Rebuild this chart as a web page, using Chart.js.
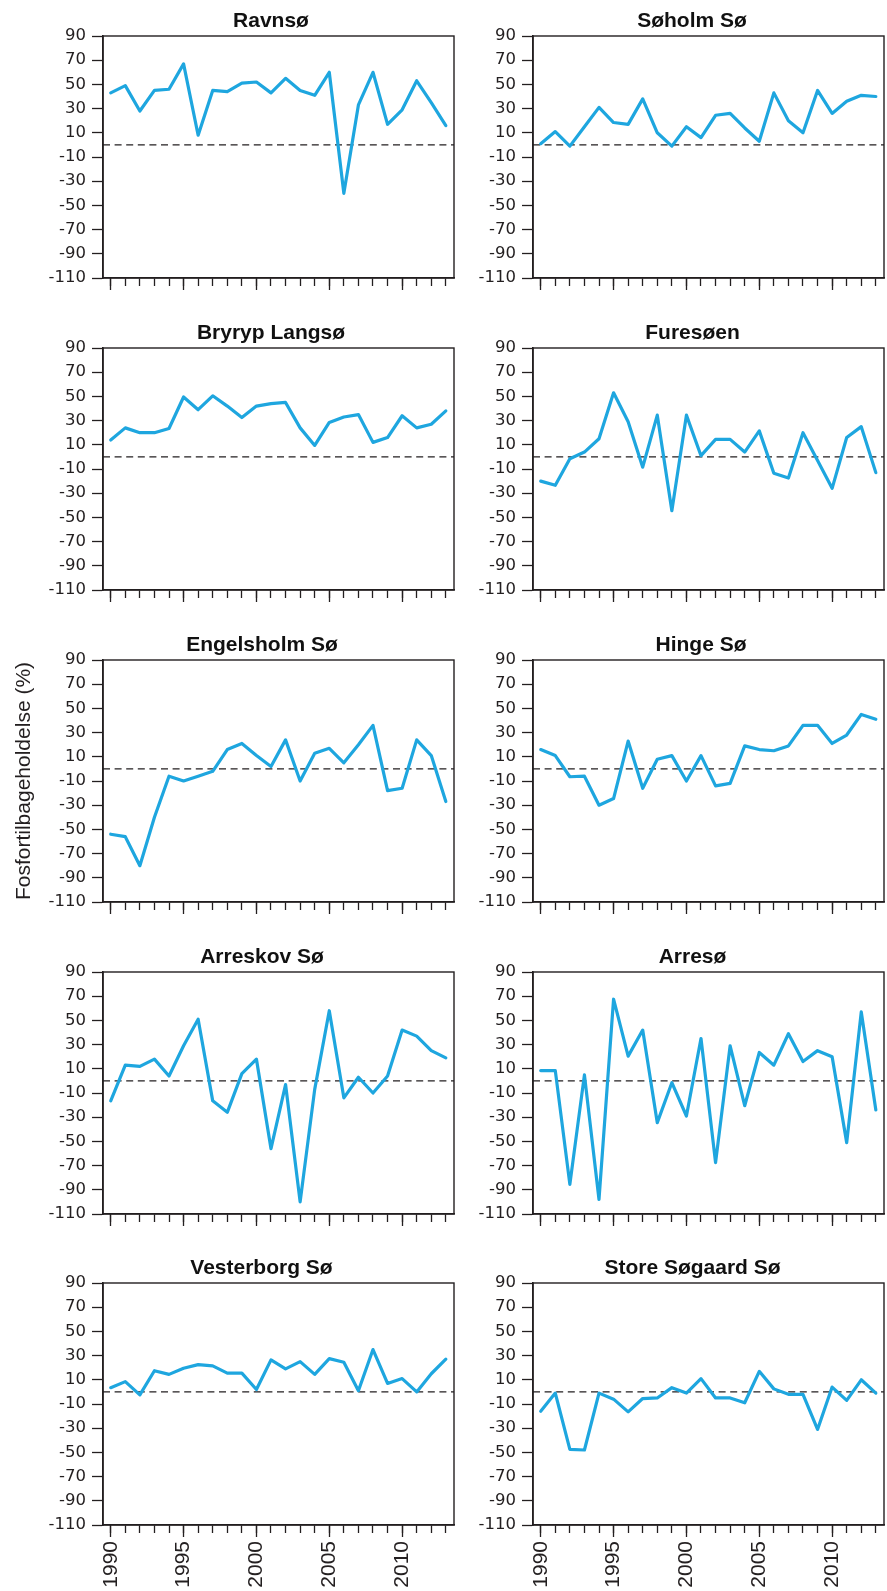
<!DOCTYPE html>
<html lang="da">
<head>
<meta charset="utf-8">
<title>Fosfortilbageholdelse</title>
<script src="https://cdn.jsdelivr.net/npm/chart.js@4.4.1/dist/chart.umd.min.js"></script>
<style>
  html, body { margin: 0; padding: 0; background: #ffffff; }
  #page { position: relative; width: 887px; height: 1591px; overflow: hidden; background: #ffffff; }
  #page canvas { position: absolute; }
</style>
</head>
<body>
<div id="page"></div>
<script>
// ---- data -------------------------------------------------------------
const years = [1990, 1991, 1992, 1993, 1994, 1995, 1996, 1997, 1998, 1999, 2000, 2001,
               2002, 2003, 2004, 2005, 2006, 2007, 2008, 2009, 2010, 2011, 2012, 2013];

const lakeNames = ['Ravnsø', 'Søholm Sø', 'Bryryp Langsø', 'Furesøen', 'Engelsholm Sø',
                   'Hinge Sø', 'Arreskov Sø', 'Arresø', 'Vesterborg Sø', 'Store Søgaard Sø'];

// phosphorus retention (%) per lake and year
const ravnso       = [43, 49, 28, 45, 46, 67, 8, 45, 44, 51, 52, 43, 55, 45, 41, 60, -40, 33, 60, 17, 29, 53, 35, 16];
const soholm       = [1, 11, -1, 15, 31, 18.5, 17, 38, 10, -1, 15, 6, 24.5, 26, 14, 3, 43, 20, 10, 45, 26, 36, 41, 40];
const bryrypLangso = [14, 24, 20, 20, 23.5, 49.5, 39, 50.5, 42, 32.5, 42, 44, 45, 24, 9.5, 28.5, 33, 35, 12, 16, 34, 24, 27, 38];
const furesoen     = [-20, -23.5, -1.5, 4, 15, 53, 29, -8.5, 34.5, -44.5, 34.5, 1, 14.5, 14.5, 4, 21.5, -13.5, -17.5, 20, -3, -26, 16, 25, -13];
const engelsholm   = [-54, -56, -80, -40, -6, -10, -6, -2, 16, 21, 11, 2, 24, -10, 13, 17, 5, 20, 36, -18, -16, 24, 11, -27];
const hinge        = [16, 11, -6.5, -6, -30, -24.5, 23, -16, 8, 11, -10, 11, -14, -12, 19, 16, 15, 19, 36, 36, 21, 28, 45, 41];
const arreskov     = [-16.5, 13, 12, 18, 4, 29, 51, -16.5, -26, 6, 18, -56, -3, -100, -7, 58, -14, 3, -10, 4, 42, 37, 25, 19];
const arreso       = [8.5, 8.5, -85.5, 5, -98, 67.5, 20.5, 42, -34.5, -1.5, -29, 35, -67.5, 29, -20.5, 23.5, 13, 39, 16, 25, 20, -51, 57, -24];
const vesterborg   = [3.5, 8.5, -2.5, 17.5, 14.5, 19.5, 22.5, 21.5, 15.5, 15.5, 2, 26.5, 19, 25, 14.5, 27.5, 24.5, 1, 35, 7, 11, 0, 15, 27];
const storeSogaard = [-16, -1, -47.5, -48, -1, -6, -16.5, -5.5, -5, 3.5, -1, 11, -5, -5, -9, 17, 2.5, -2, -2, -31, 4, -7, 10, -1];

const lakeSeries = [ravnso, soholm, bryrypLangso, furesoen, engelsholm,
                    hinge, arreskov, arreso, vesterborg, storeSogaard];

// axis ticks
const yTickValues = [-110, -90, -70, -50, -30, -10, 10, 30, 50, 70, 90];
const xTickLabels = [1990, 1995, 2000, 2005, 2010];
const yAxisLabel = 'Fosfortilbageholdelse (%)';

// ---- layout & style -------------------------------------------------------
const ink = '#231f20';
const lineBlue = '#1ea6df';
const xMin = 1989.47, xMax = 2013.56;
const yMin = yTickValues[0], yMax = yTickValues[yTickValues.length - 1];

const canvasW = 457;
const columnLeft = [0, 430];
const boxTops = [36, 348, 660, 972, 1283];   // top edge of each row's plot frame
const boxHeight = 242;
const titleGap = 36;                         // canvas space above the frame
const axisWidth = 103;                       // y-axis band, left of the frame
const frameRight = 454;
const titleCentres = [271, 262, 271, 262.5, 262, 271, 262, 262.5, 261.5, 262.5];

// frame around each plot area
const panelFrame = {
  id: 'panelFrame',
  afterDatasetsDraw(chart, args, opts) {
    const { ctx, chartArea: a } = chart;
    ctx.save();
    ctx.strokeStyle = opts.color;
    ctx.lineWidth = opts.width;
    ctx.strokeRect(a.left, a.top, a.right - a.left, a.bottom - a.top);
    ctx.restore();
  }
};

// bold lake name above each panel
const panelTitle = {
  id: 'panelTitle',
  afterDraw(chart, args, opts) {
    const { ctx } = chart;
    ctx.save();
    ctx.font = opts.font;
    ctx.fillStyle = opts.color;
    ctx.textAlign = 'center';
    ctx.textBaseline = 'alphabetic';
    ctx.fillText(opts.text, opts.x, chart.chartArea.top - opts.gap);
    ctx.restore();
  }
};

const page = document.getElementById('page');

lakeNames.forEach((name, i) => {
  const col = i % 2;
  const row = Math.floor(i / 2);
  const bottomRow = row === boxTops.length - 1;
  const canvasTop = boxTops[row] - titleGap;
  const canvasH = bottomRow ? 1591 - canvasTop : titleGap + boxHeight + 20;

  const canvas = document.createElement('canvas');
  canvas.width = canvasW;
  canvas.height = canvasH;
  canvas.style.left = columnLeft[col] + 'px';
  canvas.style.top = canvasTop + 'px';
  canvas.style.width = canvasW + 'px';
  canvas.style.height = canvasH + 'px';
  page.appendChild(canvas);

  const values = lakeSeries[i];

  new Chart(canvas, {
    type: 'line',
    data: {
      datasets: [
        {
          label: name,
          data: years.map((yr, k) => ({ x: yr, y: values[k] })),
          borderColor: lineBlue,
          borderWidth: 3.2,
          borderJoinStyle: 'round',
          borderCapStyle: 'round',
          pointRadius: 0,
          tension: 0,
          fill: false,
          xAxisID: 'x',
          yAxisID: 'y'
        },
        {
          label: 'nul',
          data: [{ x: xMin, y: 0 }, { x: xMax, y: 0 }],
          borderColor: ink,
          borderWidth: 1.4,
          borderDash: [7, 4.6],
          pointRadius: 0,
          fill: false,
          xAxisID: 'x',
          yAxisID: 'y'
        }
      ]
    },
    options: {
      responsive: false,
      maintainAspectRatio: false,
      animation: false,
      events: [],
      layout: { padding: { top: titleGap, left: 0, right: canvasW - frameRight, bottom: 0 } },
      plugins: {
        legend: { display: false },
        tooltip: { enabled: false },
        title: { display: false },
        panelFrame: { color: ink, width: 1.4 },
        panelTitle: {
          text: name,
          x: titleCentres[i],
          gap: 9,
          color: '#111111',
          font: 'bold 21px "Liberation Sans", Arial, Helvetica, sans-serif'
        }
      },
      scales: {
        x: {
          type: 'linear',
          axis: 'x',
          position: 'bottom',
          min: xMin,
          max: xMax,
          afterBuildTicks: s => { s.ticks = years.map(v => ({ value: v })); },
          afterFit: s => {
            s.height = canvasH - titleGap - boxHeight;
            s.paddingLeft = 0;
            s.paddingRight = 0;
          },
          grid: { drawOnChartArea: false, drawTicks: true, tickLength: 8, tickColor: ink, tickWidth: 1.3 },
          border: { display: true, color: ink, width: 1.4 },
          ticks: {
            display: bottomRow,
            autoSkip: false,
            minRotation: 90,
            maxRotation: 90,
            padding: 8,
            color: ink,
            font: { family: '"Liberation Sans", Arial, Helvetica, sans-serif', size: 21 },
            callback: v => (xTickLabels.includes(v) ? String(v) : '')
          }
        },
        xMajor: {
          type: 'linear',
          axis: 'x',
          position: { y: yMin },
          min: xMin,
          max: xMax,
          afterBuildTicks: s => { s.ticks = xTickLabels.map(v => ({ value: v })); },
          grid: { drawOnChartArea: false, drawTicks: true, tickLength: 12, tickColor: ink, tickWidth: 1.3 },
          border: { display: false },
          ticks: { display: false }
        },
        y: {
          type: 'linear',
          position: 'left',
          min: yMin,
          max: yMax,
          afterBuildTicks: s => { s.ticks = yTickValues.map(v => ({ value: v })); },
          afterFit: s => { s.width = axisWidth; },
          grid: { drawOnChartArea: false, drawTicks: true, tickLength: 11, tickColor: ink, tickWidth: 1.3 },
          border: { display: true, color: ink, width: 1.6 },
          ticks: {
            padding: 6,
            color: ink,
            font: { family: '"DejaVu Sans", sans-serif', size: 16.5 }
          },
          title: {
            display: i === 4,
            text: yAxisLabel,
            color: ink,
            font: { family: '"Liberation Sans", Arial, Helvetica, sans-serif', size: 21 },
            padding: { top: 12, bottom: 0 }
          }
        }
      }
    },
    plugins: [panelFrame, panelTitle]
  });
});
</script>
</body>
</html>
